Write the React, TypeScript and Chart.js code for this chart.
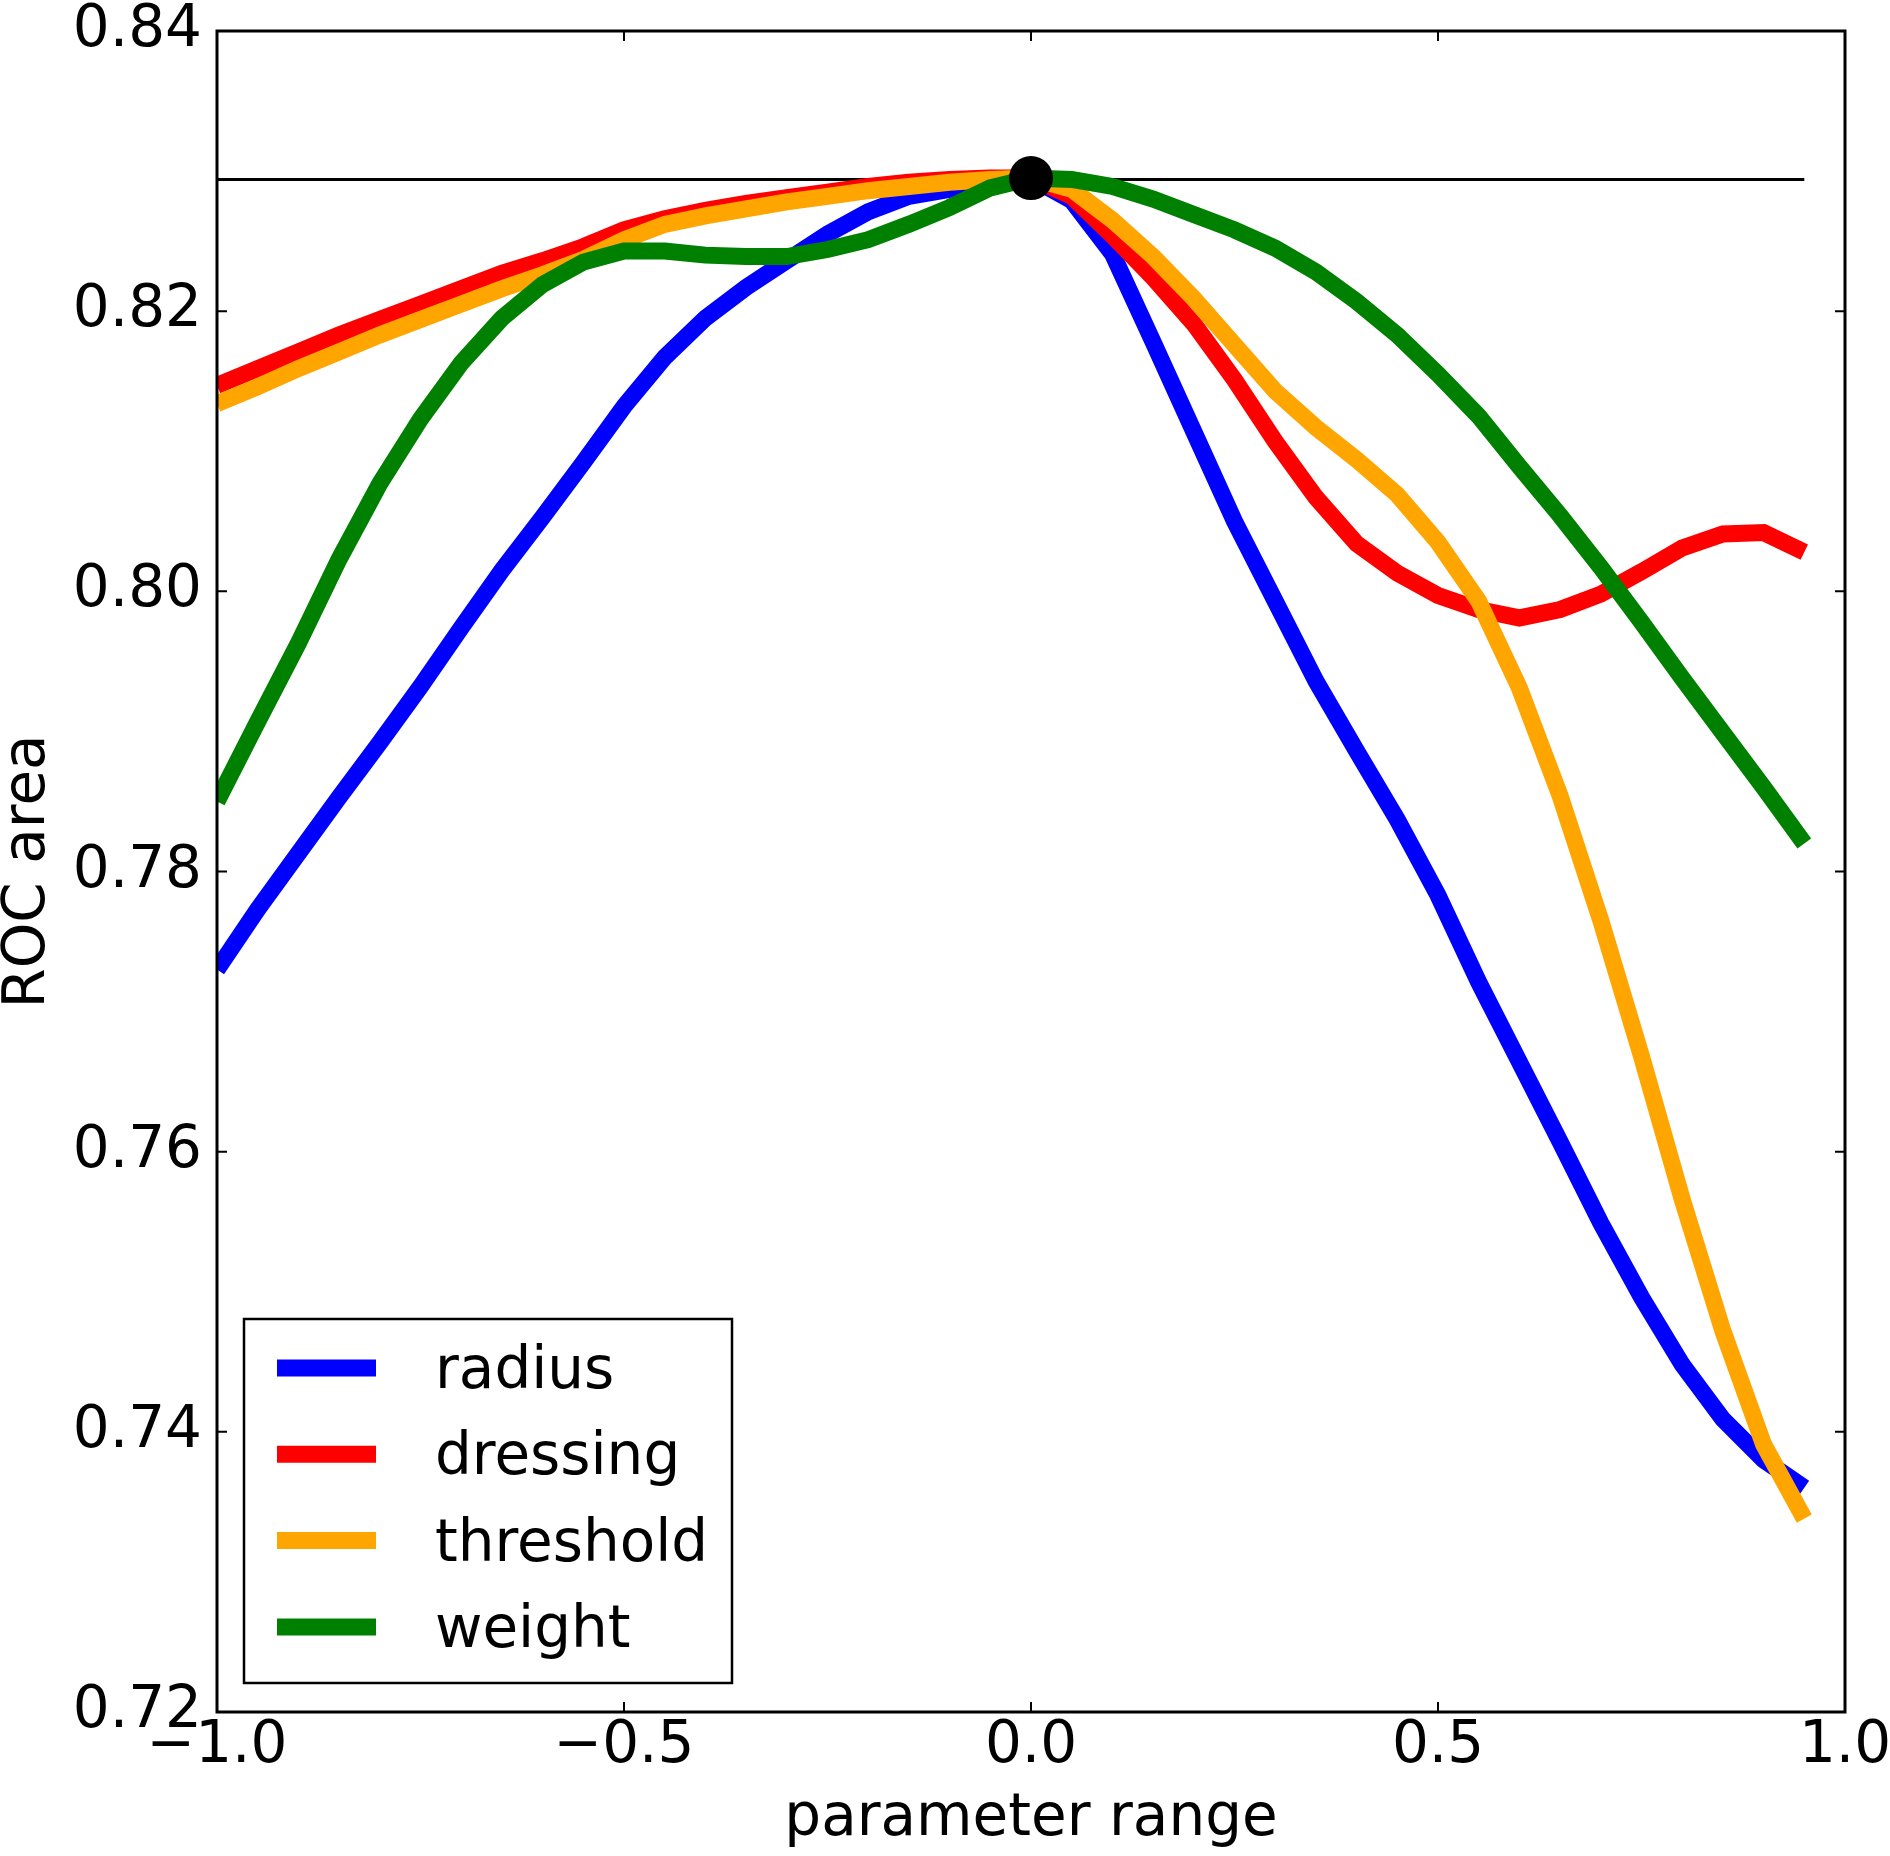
import { useEffect, useRef } from 'react';
import { Chart, registerables } from 'chart.js';

Chart.register(...registerables);

// parameter range (x) sampled every 0.05
const paramRange = [
  -1.0, -0.95, -0.9, -0.85, -0.8, -0.75, -0.7, -0.65, -0.6, -0.55,
  -0.5, -0.45, -0.4, -0.35, -0.3, -0.25, -0.2, -0.15, -0.1, -0.05,
  0.0, 0.05, 0.1, 0.15, 0.2, 0.25, 0.3, 0.35, 0.4, 0.45,
  0.5, 0.55, 0.6, 0.65, 0.7, 0.75, 0.8, 0.85, 0.9, 0.95,
];

const radius = [
  0.773, 0.7773, 0.7813, 0.7853, 0.7892, 0.7932, 0.7974, 0.8015, 0.8053, 0.8092,
  0.8132, 0.8167, 0.8195, 0.8217, 0.8236, 0.8255, 0.8271, 0.8282, 0.8287, 0.829,
  0.8295, 0.8279, 0.8241, 0.8178, 0.8114, 0.805, 0.7993, 0.7936, 0.7886, 0.7837,
  0.7783, 0.7721, 0.7664, 0.7607, 0.7549, 0.7496, 0.7448, 0.7409, 0.738, 0.736,
];

const dressing = [
  0.8147, 0.8159, 0.8171, 0.8183, 0.8194, 0.8205, 0.8216, 0.8227, 0.8236, 0.8246,
  0.8258, 0.8266, 0.8272, 0.8277, 0.8281, 0.8285, 0.8289, 0.8292, 0.8294, 0.8295,
  0.8295, 0.8282, 0.8254, 0.8224, 0.8191, 0.8151, 0.8107, 0.8067, 0.8034, 0.8013,
  0.7997, 0.7987, 0.7981, 0.7987, 0.7998, 0.8014, 0.8031, 0.8041, 0.8042, 0.8028,
];

const threshold = [
  0.8134, 0.8146, 0.8159, 0.8171, 0.8183, 0.8194, 0.8205, 0.8216, 0.8226, 0.8237,
  0.8251, 0.8262, 0.8268, 0.8273, 0.8278, 0.8282, 0.8286, 0.8289, 0.8292, 0.8294,
  0.8295, 0.8287, 0.8265, 0.8239, 0.8209, 0.8176, 0.8143, 0.8117, 0.8094, 0.8069,
  0.8035, 0.7993, 0.7931, 0.7854, 0.7765, 0.7668, 0.7566, 0.7472, 0.7391, 0.7338,
];

const weight = [
  0.785, 0.7907, 0.7963, 0.8023, 0.8077, 0.8123, 0.8163, 0.8195, 0.8219, 0.8235,
  0.8243, 0.8243, 0.824, 0.8239, 0.8239, 0.8244, 0.8251, 0.8262, 0.8274, 0.8288,
  0.8295, 0.8294, 0.8289, 0.828, 0.8269, 0.8258, 0.8245, 0.8228, 0.8207, 0.8183,
  0.8155, 0.8125, 0.8089, 0.8054, 0.8017, 0.7978, 0.7938, 0.7899, 0.786, 0.782,
];

// reference level and the optimum point
const baselineRange = [-1.0, 0.95];
const baselineValue = 0.8294;
const optimumX = 0.0;
const optimumY = 0.8295;

const xTicks = [-1.0, -0.5, 0.0, 0.5, 1.0];
const yTicks = [0.72, 0.74, 0.76, 0.78, 0.8, 0.82, 0.84];

const FONT = "'DejaVu Sans', sans-serif";
const LINE_WIDTH = 17;

const toPoints = (ys: number[]) => paramRange.map((x, i) => ({ x, y: ys[i] }));

// matplotlib-like frame with inward ticks on all four sides
const framePlugin = {
  id: 'frame',
  afterDatasetsDraw(chart: any) {
    const { ctx, chartArea, scales } = chart;
    const { left, right, top, bottom } = chartArea;
    const len = 10;
    ctx.save();
    ctx.strokeStyle = '#000';
    ctx.lineWidth = 2;
    ctx.beginPath();
    xTicks.forEach((v) => {
      const px = scales.x.getPixelForValue(v);
      ctx.moveTo(px, bottom);
      ctx.lineTo(px, bottom - len);
      ctx.moveTo(px, top);
      ctx.lineTo(px, top + len);
    });
    yTicks.forEach((v) => {
      const py = scales.y.getPixelForValue(v);
      ctx.moveTo(left, py);
      ctx.lineTo(left + len, py);
      ctx.moveTo(right, py);
      ctx.lineTo(right - len, py);
    });
    ctx.stroke();
    ctx.lineWidth = 3;
    ctx.strokeRect(left, top, right - left, bottom - top);
    ctx.restore();
  },
};

// legend box in the lower left corner of the plot
const legendPlugin = {
  id: 'boxLegend',
  afterDraw(chart: any) {
    const { ctx, chartArea } = chart;
    const items = chart.data.datasets.filter((d: any) => !String(d.label).startsWith('_'));
    const boxW = 488;
    const rowH = 86.3;
    const boxH = 364;
    const x0 = chartArea.left + 27;
    const y0 = chartArea.bottom - 29 - boxH;
    ctx.save();
    ctx.fillStyle = '#fff';
    ctx.fillRect(x0, y0, boxW, boxH);
    ctx.strokeStyle = '#000';
    ctx.lineWidth = 2.5;
    ctx.strokeRect(x0, y0, boxW, boxH);
    ctx.font = `58px ${FONT}`;
    ctx.textBaseline = 'alphabetic';
    ctx.textAlign = 'left';
    items.forEach((d: any, i: number) => {
      const cy = y0 + 49 + i * rowH;
      ctx.strokeStyle = d.borderColor;
      ctx.lineWidth = 17;
      ctx.lineCap = 'butt';
      ctx.beginPath();
      ctx.moveTo(x0 + 33, cy);
      ctx.lineTo(x0 + 132, cy);
      ctx.stroke();
      ctx.fillStyle = '#000';
      ctx.fillText(d.label, x0 + 191, cy + 20);
    });
    ctx.restore();
  },
};

export default function App() {
  const canvasRef = useRef<HTMLCanvasElement>(null);
  const chartRef = useRef<Chart | null>(null);

  useEffect(() => {
    if (!canvasRef.current) return;
    if (chartRef.current) chartRef.current.destroy();

    const series = (label: string, ys: number[], color: string, order: number) => ({
      label,
      data: toPoints(ys),
      borderColor: color,
      backgroundColor: color,
      borderWidth: LINE_WIDTH,
      pointRadius: 0,
      tension: 0,
      fill: false,
      clip: 0,
      order,
    });

    chartRef.current = new Chart(canvasRef.current, {
      type: 'line',
      data: {
        datasets: [
          {
            label: '_optimum',
            data: [{ x: optimumX, y: optimumY }],
            showLine: false,
            pointRadius: 22,
            pointBackgroundColor: '#000',
            pointBorderWidth: 0,
            borderColor: '#000',
            order: 0,
          },
          series('radius', radius, '#0000ff', 4),
          series('dressing', dressing, '#ff0000', 3),
          series('threshold', threshold, '#ffa500', 2),
          series('weight', weight, '#008000', 1),
          {
            label: '_baseline',
            data: baselineRange.map((x) => ({ x, y: baselineValue })),
            borderColor: '#000',
            borderWidth: 3,
            pointRadius: 0,
            clip: 0,
            order: 5,
          },
        ] as any,
      },
      options: {
        responsive: false,
        devicePixelRatio: 1,
        animation: false,
        events: [],
        layout: { padding: { left: 0, top: 31, right: 45, bottom: 0 } },
        plugins: {
          legend: { display: false },
          tooltip: { enabled: false },
        },
        scales: {
          x: {
            type: 'linear',
            min: -1,
            max: 1,
            afterBuildTicks: (s: any) => {
              s.ticks = xTicks.map((value) => ({ value }));
            },
            afterFit: (s: any) => {
              s.height = 144;
              s.paddingLeft = 0;
              s.paddingRight = 0;
            },
            grid: { display: false, drawTicks: false },
            border: { display: false },
            ticks: {
              padding: 6,
              color: '#000',
              maxRotation: 0,
              autoSkip: false,
              font: { family: FONT, size: 58, lineHeight: 1 },
              callback: (v: any) => Number(v).toFixed(1).replace('-', '\u2212'),
            },
            title: {
              display: true,
              text: 'parameter range',
              color: '#000',
              font: { family: FONT, size: 58, lineHeight: 1 },
              padding: { top: 0, bottom: 7 },
            },
          },
          y: {
            type: 'linear',
            min: 0.72,
            max: 0.84,
            afterBuildTicks: (s: any) => {
              s.ticks = yTicks.map((value) => ({ value }));
            },
            afterFit: (s: any) => {
              s.width = 217;
              s.paddingTop = 0;
              s.paddingBottom = 0;
            },
            grid: { display: false, drawTicks: false },
            border: { display: false },
            ticks: {
              padding: 15,
              color: '#000',
              autoSkip: false,
              font: { family: FONT, size: 58, lineHeight: 1 },
              callback: (v: any) => Number(v).toFixed(2),
            },
            title: {
              display: true,
              text: 'ROC area',
              color: '#000',
              font: { family: FONT, size: 58, lineHeight: 1 },
              padding: { top: 0, bottom: 0 },
            },
          },
        },
      },
      plugins: [framePlugin, legendPlugin],
    } as any);

    return () => {
      if (chartRef.current) {
        chartRef.current.destroy();
        chartRef.current = null;
      }
    };
  }, []);

  return (
    <div style={{ position: 'absolute', left: 0, top: 0, width: 1890, height: 1856, background: '#fff' }}>
      <canvas ref={canvasRef} width={1890} height={1856} style={{ width: 1890, height: 1856 }} />
    </div>
  );
}
